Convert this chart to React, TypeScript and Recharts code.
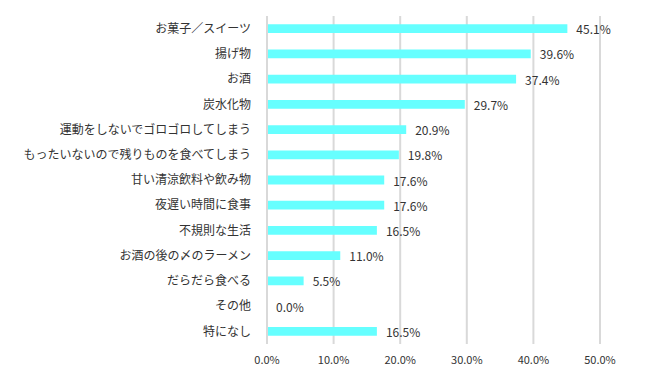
import { BarChart, Bar, XAxis, YAxis, CartesianGrid, LabelList } from "recharts";

const categories = [
  "お菓子／スイーツ",
  "揚げ物",
  "お酒",
  "炭水化物",
  "運動をしないでゴロゴロしてしまう",
  "もったいないので残りものを食べてしまう",
  "甘い清涼飲料や飲み物",
  "夜遅い時間に食事",
  "不規則な生活",
  "お酒の後の〆のラーメン",
  "だらだら食べる",
  "その他",
  "特になし",
];

const values = [45.1, 39.6, 37.4, 29.7, 20.9, 19.8, 17.6, 17.6, 16.5, 11.0, 5.5, 0.0, 16.5];

const xTicks = [0, 10, 20, 30, 40, 50];

const data = categories.map((name, i) => ({ name, value: values[i] }));

const FONT = '"Noto Sans CJK JP", "Noto Sans", sans-serif';
const pct = (v: number) => `${Number(v).toFixed(1)}%`;

// draw value labels ourselves so the 0% bar still gets one
const ValueLabel = (props: any) => {
  const { x, y, width, height, value } = props;
  return (
    <text
      x={Number(x) + Number(width || 0) + 9}
      y={Number(y) + Number(height) / 2}
      dominantBaseline="central"
      fontSize={12}
      fill="#333"
      fontFamily={FONT}
    >
      {pct(value)}
    </text>
  );
};

export default function App() {
  return (
    <div style={{ position: "absolute", left: 0, top: 0, background: "#fff" }}>
      <BarChart
        width={648}
        height={382}
        data={data}
        layout="vertical"
        margin={{ top: 16, right: 48, bottom: 8, left: 0 }}
        barCategoryGap={17}
      >
        <CartesianGrid horizontal={false} stroke="#d9d9d9" strokeWidth={2} />
        <XAxis
          type="number"
          domain={[0, 50]}
          ticks={xTicks}
          tickFormatter={pct}
          axisLine={false}
          tickLine={false}
          tickMargin={6}
          height={30}
          tick={{ fontSize: 11, fill: "#333", fontFamily: FONT }}
        />
        <YAxis
          type="category"
          dataKey="name"
          width={267}
          axisLine={{ stroke: "#d9d9d9", strokeWidth: 2 }}
          tickLine={false}
          tickMargin={10}
          interval={0}
          tick={{ fontSize: 12, fill: "#333", fontFamily: FONT }}
        />
        <Bar dataKey="value" fill="#66FFFF" isAnimationActive={false} minPointSize={0.01}>
          <LabelList dataKey="value" content={ValueLabel} />
        </Bar>
      </BarChart>
    </div>
  );
}
